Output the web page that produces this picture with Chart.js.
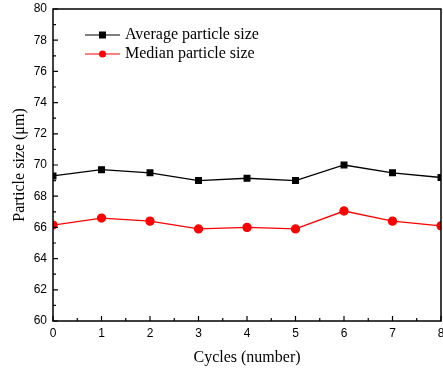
<!DOCTYPE html>
<html lang="en">
<head>
    <meta charset="UTF-8">
    <title>Particle Size vs Cycles</title>
    <script src="https://cdn.jsdelivr.net/npm/chart.js"></script>
    <style>
        html, body { margin: 0; padding: 0; background: #fff; overflow: hidden; }
        #wrap { width: 443px; height: 369px; }
    </style>
</head>
<body>
    <div id="wrap">
        <canvas id="sizeChart"></canvas>
    </div>

    <script>
        // values
        const cycles = [0, 1, 2, 3, 4, 5, 6, 7, 8];
        const averageSize = [69.3, 69.7, 69.5, 69.0, 69.15, 69.0, 70.0, 69.5, 69.2];
        const medianSize = [66.15, 66.6, 66.4, 65.9, 66.0, 65.9, 67.05, 66.4, 66.1];
        const seriesNames = ['Average particle size', 'Median particle size'];

        const serif = "'Liberation Serif', 'Times New Roman', serif";
        const sans = "'Liberation Sans', Arial, sans-serif";

        // frame round the plot + inward ticks, like Origin does it
        const frameAndTicks = {
            id: 'frameAndTicks',
            afterDraw(chart) {
                const { ctx, chartArea: a, scales } = chart;
                ctx.save();
                ctx.strokeStyle = '#000';
                ctx.lineWidth = 1.5;
                ctx.strokeRect(a.left, a.top, a.right - a.left, a.bottom - a.top);

                ctx.lineWidth = 1.2;
                ctx.beginPath();
                for (let v = 60; v <= 80; v += 1) {
                    const y = scales.y.getPixelForValue(v);
                    const len = v % 2 === 0 ? 5 : 3;
                    ctx.moveTo(a.left, y);
                    ctx.lineTo(a.left + len, y);
                }
                for (let c = 0; c <= 8; c += 0.5) {
                    const x = scales.x.getPixelForValue(c);
                    const len = Number.isInteger(c) ? 5 : 3;
                    ctx.moveTo(x, a.bottom);
                    ctx.lineTo(x, a.bottom - len);
                }
                ctx.stroke();
                ctx.restore();
            }
        };

        // legend sits inside the plot, top left
        const insideLegend = {
            id: 'insideLegend',
            afterDatasetsDraw(chart) {
                const { ctx, chartArea: a } = chart;
                ctx.save();
                chart.data.datasets.forEach((ds, i) => {
                    const y = a.top + 26 + i * 19;
                    const x0 = a.left + 32;
                    ctx.strokeStyle = ds.borderColor;
                    ctx.lineWidth = 1.2;
                    ctx.beginPath();
                    ctx.moveTo(x0, y);
                    ctx.lineTo(x0 + 35, y);
                    ctx.stroke();
                    ctx.fillStyle = ds.pointBackgroundColor;
                    if (ds.pointStyle === 'rect') {
                        ctx.fillRect(x0 + 14, y - 3.5, 7, 7);
                    } else {
                        ctx.beginPath();
                        ctx.arc(x0 + 17.5, y, 3.5, 0, Math.PI * 2);
                        ctx.fill();
                    }
                    ctx.fillStyle = '#000';
                    ctx.font = '16px ' + serif;
                    ctx.textBaseline = 'middle';
                    ctx.fillText(ds.label, x0 + 40, y);
                });
                ctx.restore();
            }
        };

        const ctx = document.getElementById('sizeChart').getContext('2d');
        new Chart(ctx, {
            type: 'line',
            data: {
                datasets: [
                    {
                        label: seriesNames[0],
                        data: cycles.map((c, i) => ({ x: c, y: averageSize[i] })),
                        borderColor: '#000',
                        backgroundColor: '#000',
                        pointBackgroundColor: '#000',
                        pointBorderColor: '#000',
                        pointStyle: 'rect',
                        pointRadius: 4,
                        borderWidth: 1.3,
                        fill: false,
                    },
                    {
                        label: seriesNames[1],
                        data: cycles.map((c, i) => ({ x: c, y: medianSize[i] })),
                        borderColor: '#ff0000',
                        backgroundColor: '#ff0000',
                        pointBackgroundColor: '#ff0000',
                        pointBorderColor: '#ff0000',
                        pointStyle: 'circle',
                        pointRadius: 4,
                        borderWidth: 1.3,
                        fill: false,
                    }
                ],
            },
            options: {
                responsive: true,
                maintainAspectRatio: false,
                animation: false,
                layout: { autoPadding: false, padding: { top: 9, right: 2, left: 0, bottom: 0 } },
                plugins: {
                    legend: { display: false },
                    tooltip: { enabled: false },
                },
                scales: {
                    x: {
                        type: 'linear',
                        min: 0,
                        max: 8,
                        grid: { display: false, drawTicks: false },
                        border: { display: false },
                        ticks: {
                            stepSize: 1,
                            padding: 5,
                            color: '#000',
                            font: { family: sans, size: 12 },
                        },
                        title: {
                            display: true,
                            text: 'Cycles (number)',
                            color: '#000',
                            font: { family: serif, size: 16 },
                            padding: { top: 8, bottom: 2 },
                        },
                        afterFit(scale) {
                            scale.height = 48;
                            scale.paddingLeft = 0;
                            scale.paddingRight = 0;
                        },
                    },
                    y: {
                        min: 60,
                        max: 80,
                        grid: { display: false, drawTicks: false },
                        border: { display: false },
                        ticks: {
                            stepSize: 2,
                            padding: 6,
                            color: '#000',
                            font: { family: sans, size: 12 },
                        },
                        title: {
                            display: true,
                            text: 'Particle size (μm)',
                            color: '#000',
                            font: { family: serif, size: 16 },
                            padding: { top: 10, bottom: 4 },
                        },
                        afterFit(scale) {
                            scale.width = 53;
                            scale.paddingTop = 0;
                            scale.paddingBottom = 0;
                        },
                    },
                },
            },
            plugins: [frameAndTicks, insideLegend],
        });
    </script>
</body>
</html>
